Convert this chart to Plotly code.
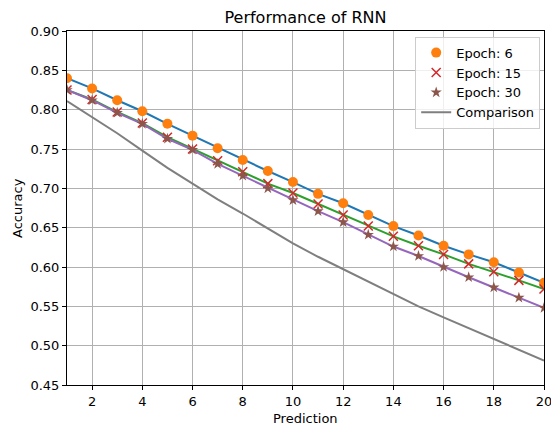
import plotly.graph_objects as go

x = list(range(1, 21))
epoch6 = [0.840, 0.827, 0.812, 0.798, 0.782, 0.767, 0.751, 0.736, 0.722, 0.708,
          0.693, 0.681, 0.666, 0.652, 0.640, 0.627, 0.616, 0.606, 0.593, 0.580]
epoch15 = [0.825, 0.813, 0.797, 0.783, 0.765, 0.750, 0.735, 0.721, 0.706, 0.694,
           0.680, 0.666, 0.652, 0.639, 0.627, 0.616, 0.604, 0.594, 0.583, 0.572]
epoch30 = [0.825, 0.812, 0.796, 0.782, 0.763, 0.749, 0.731, 0.716, 0.700, 0.685,
           0.671, 0.657, 0.641, 0.626, 0.614, 0.600, 0.587, 0.574, 0.561, 0.548]
comparison = [0.811, 0.791, 0.770, 0.748, 0.726, 0.706, 0.686, 0.668, 0.649, 0.630,
              0.613, 0.597, 0.581, 0.565, 0.550, 0.536, 0.522, 0.508, 0.494, 0.481]

x_ticks = list(range(2, 21, 2))
y_ticks = [0.45, 0.50, 0.55, 0.60, 0.65, 0.70, 0.75, 0.80, 0.85, 0.90]

FONT = "DejaVu Sans"

fig = go.Figure()
fig.add_trace(go.Scatter(x=x, y=epoch6, mode="lines", line=dict(color="#1f77b4", width=2), showlegend=False))
fig.add_trace(go.Scatter(x=x, y=epoch6, mode="markers", name="Epoch: 6",
                         marker=dict(symbol="circle", size=10, color="#ff7f0e")))
fig.add_trace(go.Scatter(x=x, y=epoch15, mode="lines", line=dict(color="#2ca02c", width=2), showlegend=False))
fig.add_trace(go.Scatter(x=x, y=epoch15, mode="markers", name="Epoch: 15",
                         marker=dict(symbol="x-thin", size=9, color="#d62728",
                                     line=dict(color="#d62728", width=1.5))))
fig.add_trace(go.Scatter(x=x, y=epoch30, mode="lines", line=dict(color="#9467bd", width=2), showlegend=False))
fig.add_trace(go.Scatter(x=x, y=epoch30, mode="markers", name="Epoch: 30",
                         marker=dict(symbol="star", size=8.5, color="#8c564b")))
fig.add_trace(go.Scatter(x=x, y=comparison, mode="lines", name="Comparison",
                         line=dict(color="#7f7f7f", width=2)))

axis_common = dict(showline=True, mirror=True, linecolor="black", linewidth=1,
                   ticks="outside", ticklen=4, tickcolor="black", automargin=False,
                   ticklabeloverflow="allow",
                   showgrid=True, gridcolor="#b0b0b0", gridwidth=1, zeroline=False,
                   tickfont=dict(family=FONT, size=13, color="black"))

fig.update_layout(
    width=551, height=425,
    margin=dict(l=67, r=7, t=31, b=40),
    paper_bgcolor="white", plot_bgcolor="white",
    title=dict(text="Performance of RNN", x=0.5, xref="paper", xanchor="center",
               y=1 - 17 / 425, yref="container", yanchor="middle",
               font=dict(family=FONT, size=16, color="black")),
    font=dict(family=FONT, size=13, color="black"),
    xaxis=dict(range=[1, 20], tickvals=x_ticks, **axis_common),
    yaxis=dict(range=[0.45, 0.90], tickvals=y_ticks, tickformat=".2f", **axis_common),
    legend=dict(x=0.992, y=0.984, xanchor="right", yanchor="top",
                bgcolor="rgba(255,255,255,0.8)", bordercolor="#cccccc", borderwidth=1,
                font=dict(family=FONT, size=13, color="black"),
                itemwidth=30, tracegroupgap=0),
    annotations=[
        dict(text="Prediction", x=0.5, y=0, xref="paper", yref="paper",
             xanchor="center", yanchor="middle", yshift=-33, showarrow=False,
             font=dict(family=FONT, size=13, color="black")),
        dict(text="Accuracy", x=0, y=0.5, xref="paper", yref="paper",
             xanchor="center", yanchor="middle", xshift=-50, textangle=-90, showarrow=False,
             font=dict(family=FONT, size=13, color="black")),
    ],
)

fig.write_html("out.html", config={"displayModeBar": False},
               post_script="document.body.style.margin='0px';")
